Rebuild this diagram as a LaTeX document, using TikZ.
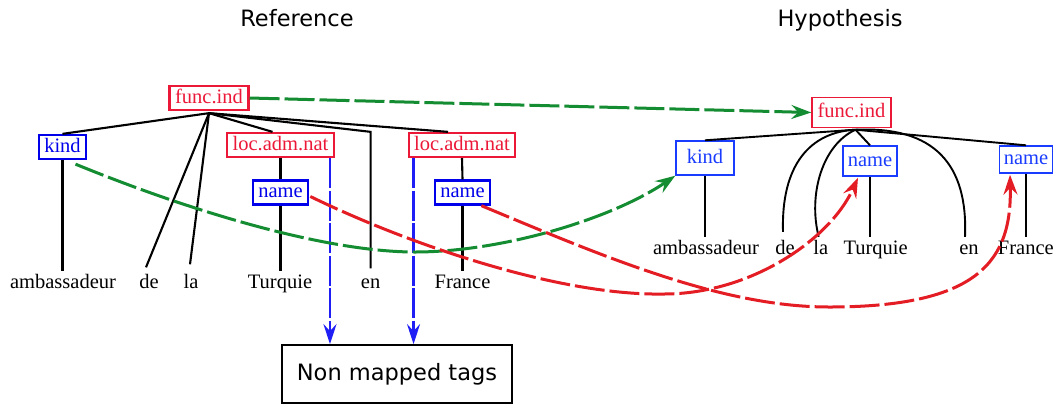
\documentclass[tikz,border=0pt]{standalone}
\usepackage{fontspec}
\setmainfont{Liberation Serif}
\newfontfamily\titlefont{DejaVu Sans}
\usetikzlibrary{arrows.meta,calc}
\definecolor{refred}{RGB}{236,24,56}
\definecolor{refblue}{RGB}{0,0,235}
\definecolor{hypblue}{RGB}{25,60,255}
\definecolor{agreen}{RGB}{20,140,50}
\definecolor{ared}{RGB}{228,28,36}
\definecolor{ablue}{RGB}{30,30,245}
\tikzset{
  lbl/.style={font=\fontsize{20.5}{24}\selectfont},
  word/.style={lbl, anchor=base, inner xsep=0pt, inner ysep=3pt, text height=14pt, text depth=4pt},
  rbox/.style={lbl, draw, line width=2.3pt, inner xsep=5.5pt, inner ysep=3pt, text height=14pt, text depth=4pt},
  hbox/.style={lbl, draw, line width=1.4pt, inner xsep=4pt, inner ysep=3pt, text height=14pt, text depth=4pt},
  tedge/.style={line width=2.1pt},
  hedge/.style={line width=1.9pt},
  title/.style={font=\titlefont\fontsize{22.5}{26}\selectfont, anchor=base, inner sep=0pt},
  mapg/.style={line width=3pt, agreen, dash pattern=on 30pt off 5pt, -{Stealth[length=20pt,width=14pt,inset=7pt]}},
  mapr/.style={line width=3pt, ared, dash pattern=on 30pt off 5pt, -{Stealth[length=20pt,width=14pt,inset=7pt]}},
  mapb/.style={line width=2.8pt, ablue, dash pattern=on 30pt off 2.5pt, -{Stealth[length=20pt,width=13pt,inset=7pt]}},
}
\begin{document}
\begin{tikzpicture}[x=1pt,y=-1pt]
\fill[white] (0,0) rectangle (1054,408);
\useasboundingbox (0,0) rectangle (1054,408);

% titles
\node[title] (tref) at (297,26) {Reference};
\node[title] (thyp) at (840,26) {Hypothesis};

% ---------------- Reference tree ----------------
\node[rbox, refred] (rf) at (209,98) {func.ind};
\node[rbox, refblue] (rk) at (62.5,147) {kind};
\node[rbox, refred] (rl1) at (280.5,145) {loc.adm.nat};
\node[rbox, refred] (rl2) at (462,145) {loc.adm.nat};
\node[rbox, refblue] (rn1) at (280.5,192.5) {name};
\node[rbox, refblue] (rn2) at (462.5,192.5) {name};

\node[word] (ramb) at (63,288.5) {ambassadeur};
\node[word] (rde) at (149,288.5) {de};
\node[word] (rla) at (191,288.5) {la};
\node[word] (rtur) at (280,288.5) {Turquie};
\node[word] (ren) at (370.6,288.5) {en};
\node[word] (rfra) at (462.5,288.5) {France};

\coordinate (rroot) at ($(rf.south)+(0,2)$);
\draw[tedge] (rroot) -- (rk.north);
\draw[tedge] (rroot) -- ($(rde.north)+(-3,-4)$);
\draw[tedge] (rroot) -- ($(rla.north)+(-1,-7)$);
\draw[tedge] (rroot) -- ($(rl1.north)+(-8,0)$);
\draw[tedge] (rroot) -- (ren.north |- rl1.north) -- ($(ren.north)+(0,-3)$);
\draw[tedge] (rroot) -- ($(rl2.north)+(-14,0)$);
\draw[tedge] (rk.south) -- (rk.south |- ramb.north);
\draw[tedge] (rl1.south) -- (rn1.north);
\draw[tedge] (rn1.south) -- (rn1.south |- rtur.north);
\draw[tedge] (rl2.south) -- (rn2.north);
\draw[tedge] (rn2.south) -- (rn2.south |- rfra.north);

% ---------------- Hypothesis tree ----------------
\node[hbox, refred, minimum width=79pt, minimum height=30pt] (hf) at (851.5,112.5) {func.ind};
\node[hbox, hypblue, minimum width=58pt, minimum height=34pt] (hk) at (705,158) {kind};
\node[hbox, hypblue, minimum width=54pt, minimum height=30pt] (hn1) at (870,161) {name};
\node[hbox, hypblue, minimum width=53pt, minimum height=27pt] (hn2) at (1026,159.5) {name};

\node[word] (hamb) at (706,254) {ambassadeur};
\node[word] (hde) at (785,254) {de};
\node[word] (hla) at (820.7,254) {la};
\node[word] (htur) at (875.6,254) {Turquie};
\node[word] (hen) at (969,254) {en};
\node[word] (hfra) at (1025.8,254) {France};

\coordinate (hroot) at ($(hf.south)+(4,1.5)$);
\draw[hedge] (hroot) -- (hk.north);
\draw[hedge] (hroot) -- (hn1.north);
\draw[hedge] (hroot) -- (hn2.north);
\draw[hedge] (hroot) .. controls (810,132) and (781,165) .. ($(hde.north)+(-2,-5)$);
\draw[hedge] (hroot) .. controls (822,145) and (808,195) .. ($(hla.north)+(-2,0)$);
\draw[hedge] (hroot) .. controls (935,126) and (968,165) .. ($(hen.north)+(-4,0)$);
\draw[hedge] (hk.south) -- (hk.south |- hamb.north);
\draw[hedge] (hn1.south) -- (hn1.south |- htur.north);
\draw[hedge] (hn2.south) -- (hn2.south |- hfra.north);

% ---------------- Non mapped tags ----------------
\node[draw, line width=1.8pt, minimum width=230pt, minimum height=58pt,
      font=\titlefont\fontsize{22.5}{26}\selectfont] (nm) at (397,374) {Non mapped tags};

\coordinate (b1) at ($(rl1.south east)+(-5,0)$);
\coordinate (b2) at ($(rl2.south west)+(6,0)$);
\draw[mapb] (b1) -- (b1 |- nm.north);
\draw[mapb] (b2) -- (b2 |- nm.north);

% ---------------- mapping arrows ----------------
\draw[mapg] (rf.east) -- (hf.west);
\coordinate (g2s) at ($(rk.south)+(13,4)$);
\coordinate (g2m) at (415,252);
\draw[mapg] (g2s) .. controls (200,215) and (330,252) .. (g2m)
  .. controls (500,252) and (610,220) .. (hk.south west);

\coordinate (r1s) at ($(rn1.east)+(1,4)$);
\coordinate (r1m) at (664,294);
\draw[mapr] (r1s) .. controls (410,245) and (560,296) .. (r1m)
  .. controls (750,294) and (830,240) .. ($(hn1.south)+(-12,1)$);

\coordinate (r2s) at ($(rn2.south east)+(-10,0)$);
\coordinate (r2m) at (829,307);
\draw[mapr] (r2s) .. controls (600,255) and (720,307) .. (r2m)
  .. controls (980,307) and (1012,260) .. ($(hn2.south)+(-16,1)$);
\end{tikzpicture}
\end{document}
